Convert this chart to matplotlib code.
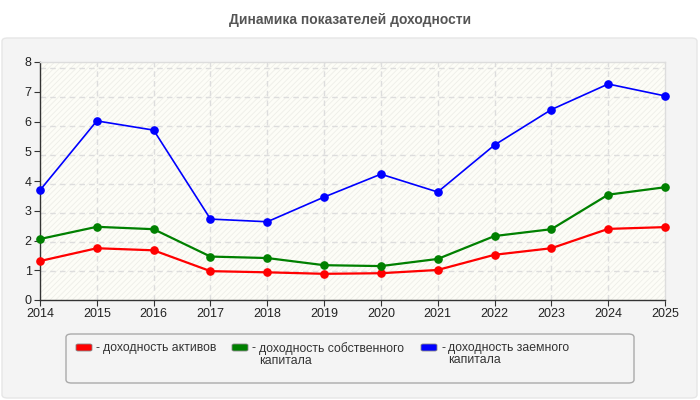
import matplotlib
matplotlib.use("Agg")
import matplotlib.pyplot as plt
from matplotlib.patches import FancyBboxPatch, Rectangle
import numpy as np

years = [2014, 2015, 2016, 2017, 2018, 2019, 2020, 2021, 2022, 2023, 2024, 2025]
roa = [1.31, 1.74, 1.67, 0.97, 0.93, 0.88, 0.90, 1.01, 1.52, 1.74, 2.39, 2.45]
roe = [2.05, 2.46, 2.38, 1.46, 1.41, 1.17, 1.14, 1.38, 2.15, 2.38, 3.54, 3.79]
rod = [3.69, 6.02, 5.71, 2.72, 2.63, 3.46, 4.23, 3.63, 5.21, 6.40, 7.26, 6.86]
series_names = ["доходность активов", "доходность собственного\nкапитала", "доходность заемного\nкапитала"]
colors = ["#ff0000", "#008000", "#0000ff"]
title = "Динамика показателей доходности"
yticks = [0, 1, 2, 3, 4, 5, 6, 7, 8]

plt.rcParams['font.family'] = ['Liberation Sans', 'DejaVu Sans']
W, H = 700, 400
fig = plt.figure(figsize=(7, 4), dpi=100)
fig.patch.set_facecolor("white")

# outer panel
panel = FancyBboxPatch((2 / W, 2 / H), 695 / W, 360 / H, boxstyle="round,pad=0,rounding_size=0.008",
                       transform=fig.transFigure, facecolor="#f4f4f4", edgecolor="#e6e6e6", lw=1, zorder=-10)
fig.patches.append(panel)

fig.text(350 / W, 1 - 20 / H, title, ha="center", va="center", fontsize=10, fontweight="bold", color="#555555")

ax = fig.add_axes([40 / W, 100 / H, 625 / W, 238 / H])
ax.set_facecolor("#fdfdf7")
ax.set_xlim(2014, 2025)
ax.set_ylim(0, 8)

# grid lines (spacing slightly off from tick spacing as in source)
gstep = 29 / 29.7
glines = [k * gstep for k in range(1, 9) if k * gstep < 8]
bounds = [0] + glines + [8]
plt.rcParams['hatch.linewidth'] = 0.6
for i in range(len(bounds) - 1):
    ax.add_patch(Rectangle((2014, bounds[i]), 11, bounds[i + 1] - bounds[i], facecolor="none",
                           edgecolor="#eeeee8", hatch="//////", lw=0, zorder=0))
for g in glines:
    ax.axhline(g, color="#dddddd", lw=1, ls=(0, (4, 3)), zorder=1)
for x in years[1:-1]:
    ax.axvline(x, color="#dddddd", lw=1, ls=(0, (4, 3)), zorder=1)

for vals, c, lw in zip([roa, roe, rod], colors, [1.6, 1.6, 1.2]):
    ax.plot(years, vals, color=c, lw=lw, marker="o", markersize=5.2, zorder=3, clip_on=False)

ax.set_xticks(years)
ax.set_xticklabels([str(y) for y in years], fontsize=9, color="#222222")
ax.set_yticks(yticks)
ax.set_yticklabels([str(v) for v in yticks], fontsize=9, color="#222222")
ax.tick_params(axis="both", direction="out", length=4, color="#333333", pad=2)
for s in ["left", "bottom"]:
    ax.spines[s].set_color("#333333")
    ax.spines[s].set_linewidth(1)
for s in ["top", "right"]:
    ax.spines[s].set_color("#dddddd")
    ax.spines[s].set_linewidth(1)

# legend box
lg = FancyBboxPatch((66 / W, 1 - 383 / H), 568 / W, 49 / H, boxstyle="round,pad=0,rounding_size=0.008",
                    transform=fig.transFigure, facecolor="#f4f4f4", edgecolor="#aaaaaa", lw=1, zorder=-5)
fig.patches.append(lg)
xs = [76, 232, 421]
for x0, name, c in zip(xs, series_names, colors):
    sw = FancyBboxPatch((x0 / W, 1 - 351 / H), 16 / W, 7 / H, boxstyle="round,pad=0,rounding_size=0.003",
                        transform=fig.transFigure, facecolor=c, edgecolor="#888888", lw=0.6, zorder=-4)
    fig.patches.append(sw)
    fig.text((x0 + 20) / W, 1 - 348 / H, "-", ha="left", va="center", fontsize=9, color="#333333")
    fig.text((x0 + 27) / W, 1 - 342 / H, name, ha="left", va="top", fontsize=8.8, color="#333333",
             linespacing=1.05)

fig.savefig("out.png", dpi=100)
